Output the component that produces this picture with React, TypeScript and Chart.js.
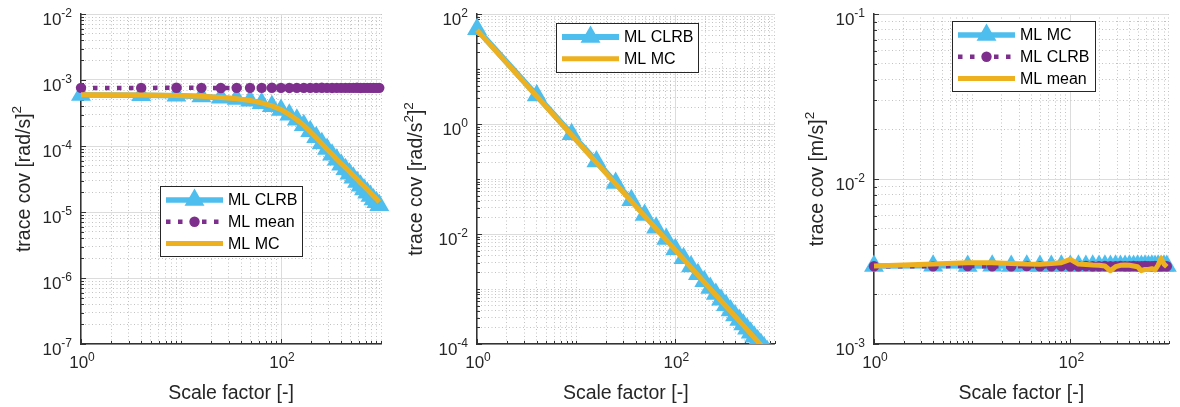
import React, { useEffect, useRef } from "react";
import { Chart, registerables } from "chart.js";

Chart.register(...registerables);

// ---------------- data ----------------
const scaleFactors = [1, 4, 9, 16, 25, 36, 49, 64, 81, 100, 121, 144, 169, 196, 225, 256, 289, 324, 361, 400, 441, 484, 529, 576, 625, 676, 729, 784, 841, 900, 961];

// panel 1 : trace cov [rad/s]^2
const p1Clrb = [5.9e-4, 5.85e-4, 5.75e-4, 5.6e-4, 5.4e-4, 5.15e-4, 4.85e-4, 4.45e-4, 4.0e-4, 3.5e-4, 2.98e-4, 2.5e-4, 2.06e-4, 1.68e-4, 1.36e-4, 1.1e-4, 9.0e-5, 7.4e-5, 6.2e-5, 5.2e-5, 4.45e-5, 3.8e-5, 3.3e-5, 2.85e-5, 2.5e-5, 2.2e-5, 1.95e-5, 1.75e-5, 1.55e-5, 1.4e-5, 1.27e-5];
const p1Mean = [7.6e-4, 7.58e-4, 7.62e-4, 7.6e-4, 7.57e-4, 7.61e-4, 7.6e-4, 7.59e-4, 7.62e-4, 7.6e-4, 7.58e-4, 7.6e-4, 7.61e-4, 7.59e-4, 7.6e-4, 7.62e-4, 7.6e-4, 7.58e-4, 7.6e-4, 7.61e-4, 7.59e-4, 7.6e-4, 7.6e-4, 7.62e-4, 7.58e-4, 7.6e-4, 7.61e-4, 7.6e-4, 7.59e-4, 7.6e-4, 7.6e-4];
const p1Mc = [6.0e-4, 5.9e-4, 5.8e-4, 5.65e-4, 5.45e-4, 5.2e-4, 4.9e-4, 4.5e-4, 4.05e-4, 3.55e-4, 3.0e-4, 2.5e-4, 2.05e-4, 1.65e-4, 1.33e-4, 1.08e-4, 8.9e-5, 7.5e-5, 6.3e-5, 5.4e-5, 4.7e-5, 4.1e-5, 3.55e-5, 3.15e-5, 2.75e-5, 2.45e-5, 2.2e-5, 1.95e-5, 1.75e-5, 1.58e-5, 1.42e-5];

// panel 2 : trace cov [rad/s^2]^2
const p2Clrb = [53, 3.31, 0.654, 0.207, 0.0848, 0.0409, 0.0221, 0.01294, 0.00808, 0.0053, 0.00362, 0.002556, 0.001856, 0.00138, 0.001047, 0.000809, 0.000635, 0.000505, 0.000407, 0.000331, 0.000273, 0.000226, 0.000189, 0.00016, 0.0001357, 0.000116, 0.0000997, 0.0000862, 0.0000749, 0.0000654, 0.0000574];
const p2Mc = [51, 3.19, 0.63, 0.199, 0.0816, 0.0394, 0.0212, 0.01245, 0.00777, 0.0051, 0.00348, 0.00246, 0.001786, 0.001328, 0.001007, 0.000778, 0.000611, 0.000486, 0.000391, 0.000319, 0.000262, 0.000218, 0.000182, 0.000154, 0.0001306, 0.0001116, 0.000096, 0.000083, 0.0000721, 0.000063, 0.0000552];

// panel 3 : trace cov [m/s]^2
const p3Mc = [2.97e-3, 2.98e-3, 2.97e-3, 2.98e-3, 2.97e-3, 2.98e-3, 2.97e-3, 2.97e-3, 2.98e-3, 2.97e-3, 2.98e-3, 2.97e-3, 2.98e-3, 2.97e-3, 2.98e-3, 2.97e-3, 2.98e-3, 2.97e-3, 2.97e-3, 2.98e-3, 2.97e-3, 2.98e-3, 2.97e-3, 2.98e-3, 2.97e-3, 2.98e-3, 2.97e-3, 2.98e-3, 2.97e-3, 2.98e-3, 2.97e-3];
const p3Clrb = [2.96e-3, 2.96e-3, 2.97e-3, 2.96e-3, 2.96e-3, 2.97e-3, 2.96e-3, 2.96e-3, 2.97e-3, 2.96e-3, 2.96e-3, 2.97e-3, 2.96e-3, 2.96e-3, 2.97e-3, 2.96e-3, 2.96e-3, 2.97e-3, 2.96e-3, 2.96e-3, 2.97e-3, 2.96e-3, 2.96e-3, 2.97e-3, 2.96e-3, 2.96e-3, 2.97e-3, 2.96e-3, 2.96e-3, 2.97e-3, 2.96e-3];
const p3Mean = [2.97e-3, 3.05e-3, 3.11e-3, 3.11e-3, 3.08e-3, 3.05e-3, 3.04e-3, 3.08e-3, 3.11e-3, 3.26e-3, 3.05e-3, 3.03e-3, 3.01e-3, 3.0e-3, 2.97e-3, 2.78e-3, 2.94e-3, 3.0e-3, 3.01e-3, 3.0e-3, 2.97e-3, 2.94e-3, 2.78e-3, 2.83e-3, 2.83e-3, 2.86e-3, 2.81e-3, 3.01e-3, 3.31e-3, 3.05e-3, 2.94e-3];

// tick labels (base 10 with exponent)
const xTickValues = [1, 100];
const xTickExps = ["0", "2"];
const p1YTickValues = [1e-7, 1e-6, 1e-5, 1e-4, 1e-3, 1e-2];
const p1YTickExps = ["-7", "-6", "-5", "-4", "-3", "-2"];
const p2YTickValues = [1e-4, 1e-2, 1, 100];
const p2YTickExps = ["-4", "-2", "0", "2"];
const p3YTickValues = [1e-3, 1e-2, 1e-1];
const p3YTickExps = ["-3", "-2", "-1"];

// ---------------- styling ----------------
const W = 1180;
const H = 407;
const BLUE = "#4DBEEE";
const PURPLE = "#7E2F8E";
const ORANGE = "#EDB120";
const AXIS = "#333333";
const TEXT = "#262626";
const FONT = '"Liberation Sans", Arial, Helvetica, sans-serif';

type Seg = { t: string; sup?: boolean };
type Series = {
  label: string;
  values: number[];
  color: string;
  width: number;
  dash?: number[];
  marker?: "triangle" | "circle";
  radius?: number;
  order: number;
};
type Panel = {
  left: number;
  width: number;
  areaL: number;
  areaR: number;
  yMin: number;
  yMax: number;
  yTickValues: number[];
  yTickExps: string[];
  yTitle: Seg[];
  yTitleX: number;
  legend: { x: number; y: number; w: number };
  series: Series[];
  clipBottom: boolean;
};

const panels: Panel[] = [
  {
    left: 0, width: 393, areaL: 81, areaR: 381,
    yMin: 1e-7, yMax: 1e-2, yTickValues: p1YTickValues, yTickExps: p1YTickExps,
    yTitle: [{ t: "trace cov [rad/s]" }, { t: "2", sup: true }], yTitleX: 30,
    legend: { x: 160, y: 186, w: 142 },
    clipBottom: false,
    series: [
      { label: "ML CLRB", values: p1Clrb, color: BLUE, width: 5.5, marker: "triangle", radius: 11.5, order: 3 },
      { label: "ML mean", values: p1Mean, color: PURPLE, width: 4.5, dash: [4.5, 7.5], marker: "circle", radius: 5.2, order: 2 },
      { label: "ML MC", values: p1Mc, color: ORANGE, width: 5, order: 1 },
    ],
  },
  {
    left: 393, width: 393, areaL: 84, areaR: 385,
    yMin: 1e-4, yMax: 100, yTickValues: p2YTickValues, yTickExps: p2YTickExps,
    yTitle: [{ t: "trace cov [rad/s" }, { t: "2", sup: true }, { t: "]" }, { t: "2", sup: true }], yTitleX: 29,
    legend: { x: 163, y: 23, w: 142 },
    clipBottom: true,
    series: [
      { label: "ML CLRB", values: p2Clrb, color: BLUE, width: 6, marker: "triangle", radius: 11.5, order: 2 },
      { label: "ML MC", values: p2Mc, color: ORANGE, width: 5, order: 1 },
    ],
  },
  {
    left: 786, width: 394, areaL: 88, areaR: 389,
    yMin: 1e-3, yMax: 1e-1, yTickValues: p3YTickValues, yTickExps: p3YTickExps,
    yTitle: [{ t: "trace cov [m/s]" }, { t: "2", sup: true }], yTitleX: 37,
    legend: { x: 166, y: 21, w: 143 },
    clipBottom: false,
    series: [
      { label: "ML MC", values: p3Mc, color: BLUE, width: 5.5, marker: "triangle", radius: 11.5, order: 3 },
      { label: "ML CLRB", values: p3Clrb, color: PURPLE, width: 4.5, dash: [4.5, 7.5], marker: "circle", radius: 5.2, order: 2 },
      { label: "ML mean", values: p3Mean, color: ORANGE, width: 5, order: 1 },
    ],
  },
];

function logTicks(min: number, max: number, majors: number[]) {
  const out: { value: number; major: boolean }[] = [];
  const e0 = Math.floor(Math.log10(min));
  const e1 = Math.ceil(Math.log10(max));
  for (let e = e0; e <= e1; e++) {
    for (let m = 1; m <= 9; m++) {
      const v = m * Math.pow(10, e);
      if (v < min * 0.9999 || v > max * 1.0001) continue;
      out.push({ value: v, major: majors.some((M) => Math.abs(M - v) / M < 1e-6) });
    }
  }
  return out;
}

function drawSegs(ctx: CanvasRenderingContext2D, segs: Seg[], x: number, y: number, align: "left" | "center" | "right", main: string, sup: string, rise: number) {
  let total = 0;
  const widths = segs.map((s) => {
    ctx.font = s.sup ? sup : main;
    const w = ctx.measureText(s.t).width;
    total += w;
    return w;
  });
  let cx = align === "left" ? x : align === "center" ? x - total / 2 : x - total;
  ctx.textAlign = "left";
  ctx.textBaseline = "alphabetic";
  segs.forEach((s, i) => {
    ctx.font = s.sup ? sup : main;
    ctx.fillText(s.t, cx, s.sup ? y - rise : y);
    cx += widths[i];
  });
}

function drawMarker(ctx: CanvasRenderingContext2D, kind: string, x: number, y: number, r: number, color: string) {
  ctx.save();
  ctx.fillStyle = color;
  ctx.beginPath();
  if (kind === "triangle") {
    for (let k = 0; k < 3; k++) {
      const ang = (k * 2 * Math.PI) / 3;
      const px = x + Math.sin(ang) * r;
      const py = y - Math.cos(ang) * r;
      if (k === 0) ctx.moveTo(px, py);
      else ctx.lineTo(px, py);
    }
    ctx.closePath();
  } else {
    ctx.arc(x, y, r, 0, Math.PI * 2);
  }
  ctx.fill();
  ctx.restore();
}

function makeOverlay(p: Panel) {
  return {
    id: "matlabOverlay",
    beforeDatasetsDraw(chart: any) {
      const { ctx, chartArea: a, scales } = chart;
      const xs = scales.x;
      const ys = scales.y;
      ctx.save();
      ctx.strokeStyle = AXIS;
      ctx.lineWidth = 1;
      xs.ticks.forEach((t: any) => {
        const px = Math.round(xs.getPixelForValue(t.value)) + 0.5;
        const L = t.major ? 5 : 3;
        ctx.beginPath();
        ctx.moveTo(px, a.bottom);
        ctx.lineTo(px, a.bottom - L);
        ctx.stroke();
      });
      ys.ticks.forEach((t: any) => {
        const py = Math.round(ys.getPixelForValue(t.value)) + 0.5;
        const L = t.major ? 5 : 3;
        ctx.beginPath();
        ctx.moveTo(a.left, py);
        ctx.lineTo(a.left + L, py);
        ctx.stroke();
      });
      ctx.restore();
    },
    afterDraw(chart: any) {
      const { ctx, chartArea: a, scales } = chart;
      const xs = scales.x;
      const ys = scales.y;
      const tickMain = `17px ${FONT}`;
      const tickSup = `12px ${FONT}`;
      ctx.save();
      ctx.fillStyle = TEXT;
      xTickValues.forEach((v, i) => {
        const px = xs.getPixelForValue(v);
        drawSegs(ctx, [{ t: "10" }, { t: xTickExps[i], sup: true }], px + 1, a.bottom + 24, "center", tickMain, tickSup, 7);
      });
      p.yTickValues.forEach((v, i) => {
        const py = ys.getPixelForValue(v);
        drawSegs(ctx, [{ t: "10" }, { t: p.yTickExps[i], sup: true }], a.left - 9, py + 10.5, "right", tickMain, tickSup, 8);
      });
      // x title
      drawSegs(ctx, [{ t: "Scale factor [-]" }], (a.left + a.right) / 2, 399, "center", `19.5px ${FONT}`, `13.5px ${FONT}`, 9);
      // y title
      ctx.save();
      ctx.translate(p.yTitleX, (a.top + a.bottom) / 2);
      ctx.rotate(-Math.PI / 2);
      drawSegs(ctx, p.yTitle, 0, 0, "center", `19.5px ${FONT}`, `13.5px ${FONT}`, 9);
      ctx.restore();

      // legend
      const lg = p.legend;
      const n = p.series.length;
      const rowH = 21.7;
      const h = 14 + (n - 1) * rowH + 13;
      ctx.fillStyle = "#ffffff";
      ctx.fillRect(lg.x, lg.y, lg.w, h);
      ctx.strokeStyle = "#262626";
      ctx.lineWidth = 1;
      ctx.strokeRect(Math.round(lg.x) + 0.5, Math.round(lg.y) + 0.5, Math.round(lg.w), Math.round(h));
      p.series.forEach((s, i) => {
        const cy = lg.y + 14 + i * rowH;
        const x0 = lg.x + 6;
        const x1 = x0 + 57;
        ctx.save();
        ctx.strokeStyle = s.color;
        ctx.lineWidth = s.width;
        ctx.lineCap = "butt";
        ctx.setLineDash(s.dash || []);
        ctx.beginPath();
        ctx.moveTo(x0, cy);
        ctx.lineTo(x1, cy);
        ctx.stroke();
        ctx.restore();
        if (s.marker) drawMarker(ctx, s.marker, (x0 + x1) / 2, cy, s.radius || 5, s.color);
        ctx.fillStyle = "#000000";
        ctx.font = `16px ${FONT}`;
        ctx.textAlign = "left";
        ctx.textBaseline = "middle";
        ctx.fillText(s.label, x1 + 5, cy + 1);
      });
      ctx.restore();
    },
  };
}

function gridColor(ctx: any) {
  return ctx.tick && ctx.tick.major ? "#dcdcdc" : "#c2c2c2";
}
function gridDash(ctx: any) {
  if (!ctx.tick) return [];
  return ctx.tick.major ? [] : [1, 2.5];
}

function PanelChart({ p }: { p: Panel }) {
  const ref = useRef<HTMLCanvasElement>(null);
  useEffect(() => {
    const chart = new Chart(ref.current as HTMLCanvasElement, {
      type: "line",
      data: {
        datasets: p.series.map((s) => ({
          label: s.label,
          data: scaleFactors.map((x, i) => ({ x, y: s.values[i] })),
          borderColor: s.color,
          backgroundColor: s.color,
          borderWidth: s.width,
          borderDash: s.dash || [],
          borderCapStyle: "butt",
          borderJoinStyle: "round",
          pointStyle: s.marker || "circle",
          pointRadius: s.marker ? s.radius : 0,
          pointHoverRadius: s.marker ? s.radius : 0,
          pointBackgroundColor: s.color,
          pointBorderColor: s.color,
          pointBorderWidth: 0,
          tension: 0,
          fill: false,
          order: s.order,
          clip: p.clipBottom ? { left: false, right: false, top: false, bottom: 0 } : false,
        })) as any,
      },
      options: {
        responsive: false,
        animation: false,
        devicePixelRatio: 1,
        events: [],
        layout: { padding: { top: 14, right: p.width - p.areaR, left: 0, bottom: 0 } },
        plugins: { legend: { display: false }, tooltip: { enabled: false } },
        scales: {
          x: {
            type: "logarithmic",
            min: 1,
            max: 1000,
            afterBuildTicks: (s: any) => {
              s.ticks = logTicks(1, 1000, xTickValues);
            },
            afterFit: (s: any) => {
              s.height = H - 344;
            },
            ticks: { display: false },
            grid: { color: gridColor, lineWidth: 1, drawTicks: false, tickLength: 0 },
            border: { display: true, color: AXIS, width: 1.5, dash: gridDash },
          },
          y: {
            type: "logarithmic",
            min: p.yMin,
            max: p.yMax,
            afterBuildTicks: (s: any) => {
              s.ticks = logTicks(p.yMin, p.yMax, p.yTickValues);
            },
            afterFit: (s: any) => {
              s.width = p.areaL;
            },
            ticks: { display: false },
            grid: { color: gridColor, lineWidth: 1, drawTicks: false, tickLength: 0 },
            border: { display: true, color: AXIS, width: 1.5, dash: gridDash },
          },
        },
      } as any,
      plugins: [makeOverlay(p)],
    });
    return () => chart.destroy();
  }, [p]);
  return (
    <canvas
      ref={ref}
      width={p.width}
      height={H}
      style={{ position: "absolute", left: p.left, top: 0, width: p.width, height: H }}
    />
  );
}

export default function App() {
  return (
    <div style={{ position: "fixed", left: 0, top: 0, width: W, height: H, background: "#ffffff", overflow: "hidden" }}>
      {panels.map((p, i) => (
        <PanelChart key={i} p={p} />
      ))}
    </div>
  );
}
